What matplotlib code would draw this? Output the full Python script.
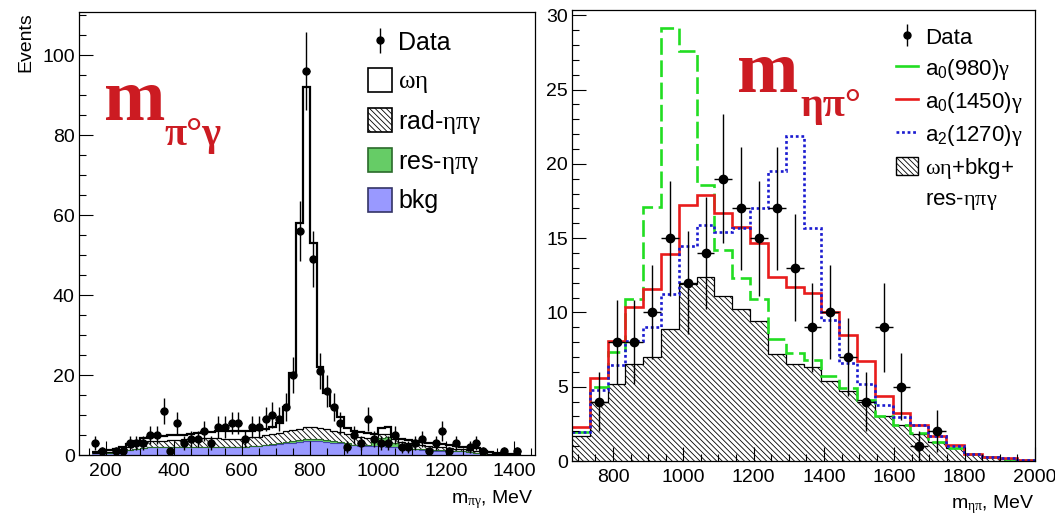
import numpy as np
import matplotlib
matplotlib.use('Agg')
import matplotlib.pyplot as plt
from matplotlib.patches import Patch
from matplotlib.lines import Line2D
from matplotlib.ticker import MultipleLocator

plt.rcParams['font.family'] = ['Liberation Sans', 'DejaVu Sans']
plt.rcParams['mathtext.fontset'] = 'custom'
plt.rcParams['mathtext.rm'] = 'Liberation Serif'
plt.rcParams['mathtext.it'] = 'Liberation Serif:italic'
plt.rcParams['mathtext.bf'] = 'Liberation Serif:bold'
plt.rcParams['mathtext.sf'] = 'Liberation Sans'
plt.rcParams['hatch.linewidth'] = 0.6
plt.rcParams['lines.scale_dashes'] = False

# ---- left panel: m(pi0 gamma), 20 MeV bins ----
edges_pg = np.arange(160, 1421, 20)
data_pg = [3, 1, 0, 1, 1, 3, 3, 3, 5, 5, 11, 1, 8, 3, 4, 4, 6, 3, 7, 7,
           8, 8, 4, 7, 7, 9, 10, 9, 12, 20, 56, 96, 49, 21, 16, 12, 8, 2, 5, 3,
           9, 4, 3, 3, 5, 2, 2, 3, 4, 1, 3, 6, 1, 3, 0, 2, 3, 1, 0, 0,
           1, 0, 1]
bkg_pg = [.4, .5, .6, .7, .9, 1.2, 1.5, 1.7, 1.9, 2.0, 2.1, 2.1, 2.0, 2.0, 1.9,
          1.9, 1.9, 1.9, 1.9, 1.9, 2.0, 2.0, 2.1, 2.2, 2.3, 2.4, 2.5, 2.7, 2.9, 3.1,
          3.3, 3.5, 3.6, 3.5, 3.3, 3.1, 2.9, 2.6, 2.4, 2.3, 2.2, 2.2, 2.2, 2.1, 2.0,
          1.7, 1.5, 1.4, 1.3, 1.2, 1.1, 1.1, 1.0, 1.0, .9, .8, .6, .3, .15, .1,
          .1, .05, .05]
res_pg = [0] * 25 + [.1, .2, .3, .4, .4, .4, .4, .4, .4, .4, .4, .3, .3, .2, .2,
                     .3, 1.2, 2.1, 2.3, 1.0, .4, .3, .2, .2, .2, .2, .1, .1] + [0] * 10
rad_pg = [0, 0, .1, .2, .4, .7, 1.1, 1.4, 1.5, 1.5, 1.5, 1.6, 1.8, 1.9, 2.1,
          2.2, 2.3, 2.3, 2.3, 2.2, 2.1, 2.1, 2.1, 2.2, 2.3, 2.4, 2.5, 2.5, 2.6, 2.8,
          2.9, 3.0, 2.9, 2.8, 2.7, 2.6, 2.5, 2.4, 2.3, 2.0, 1.7, 1.0, .9, .9, .9,
          1.1, 1.1, 1.1, 1.0, .9, .8, .8, .7, .6, .5, .5, .5, .3, .15, .1,
          .05, .05, 0]
ometa_pg = [.4, .5, .5, .6, .7, .9, 1.0, 1.1, 1.2, 1.2, 1.2, 1.2, 1.2, 1.2, 1.3,
            1.4, 1.5, 1.6, 1.7, 1.8, 1.8, 1.9, 1.8, 1.7, 1.6, 1.5, 1.7, 2.5, 6.1, 14.2,
            51.4, 85.1, 46.1, 15.3, 9.1, 6.2, 3.7, 1.5, 1.1, 1.2, 1.2, .9, 1.5, 1.6, .6,
            .8, .8, .8, .8, .8, .8, .7, .7, .7, .7, .6, .6, .5, .4, .2,
            .15, .1, .05]

# ---- right panel: m(eta pi0) ----
edges_ep = np.linspace(683.5, 2000, 27)
data_ep = [0, 4, 8, 8, 10, 15, 12, 14, 19, 17, 15, 17, 13, 9, 10, 7, 4, 9, 5, 1,
           2, 0, 0, 0, 0, 0]
sum_ep = [1.7, 4.0, 5.2, 6.5, 7.0, 8.9, 11.9, 12.4, 11.1, 10.2, 9.4, 7.2, 6.5,
          6.3, 5.4, 4.7, 4.1, 3.0, 2.4, 1.85, 1.25, .85, .5, .27, .15, .05]
a0_980 = [1.95, 4.95, 7.35, 10.9, 17.1, 29.15, 27.6, 18.6, 14.2, 12.3, 10.9, 8.2,
          7.3, 6.8, 5.7, 4.9, 4.1, 3.0, 2.45, 1.9, 1.3, .85, .5, .27, .15, .05]
a0_1450 = [2.3, 5.6, 8.1, 10.35, 11.6, 13.95, 17.2, 17.9, 16.7, 15.75, 14.7, 12.4,
           11.7, 11.3, 10.0, 8.5, 6.7, 4.35, 3.2, 2.4, 1.65, 1.05, .5, .27, .2, .07]
a2_1270 = [1.95, 4.8, 6.45, 8.1, 9.0, 11.25, 14.5, 15.85, 15.4, 15.65, 17.05, 19.5,
           21.9, 15.7, 9.5, 6.6, 5.2, 3.75, 2.95, 2.4, 1.65, 1.0, .5, .27, .2, .07]

RED = '#cc1b22'
GREEN_F = '#66cc66'
BLUE_F = '#9999ff'
HATCH = '\\' * 6

fig = plt.figure(figsize=(10.55, 5.14), dpi=100)
ax1 = fig.add_axes([79 / 1055, 59 / 514, 456 / 1055, 443 / 514])
ax2 = fig.add_axes([572 / 1055, 53 / 514, 463 / 1055, 451 / 514])

# stacked components
c1 = np.array(bkg_pg, float)
c2 = c1 + res_pg
c3 = c2 + rad_pg
c4 = c3 + ometa_pg
ax1.stairs(c1, edges_pg, baseline=0, fill=True, facecolor=BLUE_F, edgecolor='none')
ax1.stairs(c1, edges_pg, baseline=None, color='#4444aa', lw=0.8)
ax1.stairs(c2, edges_pg, baseline=c1, fill=True, facecolor=GREEN_F, edgecolor='none')
ax1.stairs(c2, edges_pg, baseline=None, color='#2a6a2a', lw=0.8)
ax1.stairs(c3, edges_pg, baseline=c2, fill=True, facecolor='none', edgecolor='k',
           hatch=HATCH, lw=0)
ax1.stairs(c3, edges_pg, baseline=None, color='k', lw=0.9)
ax1.stairs(c4, edges_pg, baseline=None, color='k', lw=1.6)

cen = 0.5 * (edges_pg[1:] + edges_pg[:-1])
d = np.array(data_pg, float)
m = d > 0
ax1.errorbar(cen[m], d[m], yerr=np.sqrt(d[m]), xerr=np.diff(edges_pg)[m] / 2,
             fmt='o', color='k', ms=5, elinewidth=1, capsize=0, zorder=5)

ax1.set_xlim(121.5, 1462)
ax1.set_ylim(0, 110.8)

# right
ax2.stairs(sum_ep, edges_ep, baseline=0, fill=True, facecolor='white', edgecolor='k',
           hatch=HATCH, lw=0)
ax2.stairs(sum_ep, edges_ep, baseline=None, color='k', lw=0.9)
ax2.stairs(a0_980, edges_ep, baseline=None, color='#22dd22', lw=1.9, ls=(0, (12, 4)))
ax2.stairs(a0_1450, edges_ep, baseline=None, color='#e81c1c', lw=1.9)
ax2.stairs(a2_1270, edges_ep, baseline=None, color='#1a1ad0', lw=1.9, ls=(0, (2, 2)))

cen2 = 0.5 * (edges_ep[1:] + edges_ep[:-1])
d2 = np.array(data_ep, float)
m2 = d2 > 0
ax2.errorbar(cen2[m2], d2[m2], yerr=np.sqrt(d2[m2]), xerr=np.diff(edges_ep)[m2] / 2,
             fmt='o', color='k', ms=6, elinewidth=1, capsize=0, zorder=5)
ax2.set_xlim(edges_ep[0], edges_ep[-1])
ax2.set_ylim(0, 30.35)

for ax, xmaj, xmin, ymaj, ymin in [(ax1, 200, 50, 20, 5), (ax2, 200, 50, 5, 1)]:
    ax.xaxis.set_major_locator(MultipleLocator(xmaj))
    ax.xaxis.set_minor_locator(MultipleLocator(xmin))
    ax.yaxis.set_major_locator(MultipleLocator(ymaj))
    ax.yaxis.set_minor_locator(MultipleLocator(ymin))
    ax.tick_params(which='both', direction='in', top=False, right=False,
                   labelsize=14, width=0.8)
    ax.tick_params(which='major', length=10)
    ax.tick_params(which='minor', length=5)
    ax.tick_params(axis='y', pad=3)
    ax.tick_params(axis='x', pad=6)
    for s in ax.spines.values():
        s.set_linewidth(0.9)

fig.text(26 / 1055, 1 - 12 / 514, 'Events', rotation=90, ha='center', va='top',
         fontsize=14)
fig.text(534 / 1055, 11 / 514, r'm$_{\mathrm{\pi\gamma}}$, MeV', ha='right',
         va='baseline', fontsize=14)
fig.text(1035 / 1055, 6 / 514, r'm$_{\mathrm{\eta\pi}}$, MeV', ha='right',
         va='baseline', fontsize=14)

# big red labels
serif = dict(family='Liberation Serif', weight='bold', color=RED)
fig.text(104 / 1055, 1 - 120 / 514, 'm', fontsize=53, va='baseline', **serif)
fig.text(164 / 1055, 1 - 145 / 514, 'π°γ', fontsize=29, va='baseline', **serif)
fig.text(737 / 1055, 1 - 92 / 514, 'm', fontsize=53, va='baseline', **serif)
fig.text(800 / 1055, 1 - 116 / 514, 'ηπ°', fontsize=29, va='baseline', **serif)

# legends
pdata = ax1.errorbar([np.nan], [np.nan], yerr=[1], fmt='o', color='k', ms=5,
                     elinewidth=1, capsize=0)
h1 = [pdata,
      Patch(facecolor='white', edgecolor='k', lw=1.2),
      Patch(facecolor='white', edgecolor='k', hatch=HATCH, lw=1.2),
      Patch(facecolor=GREEN_F, edgecolor='#2a6a2a', lw=1.2),
      Patch(facecolor=BLUE_F, edgecolor='#333366', lw=1.2)]
l1 = ['Data', r'$\mathrm{\omega\eta}$', r'rad-$\mathrm{\eta\pi\gamma}$',
      r'res-$\mathrm{\eta\pi\gamma}$', 'bkg']
ax1.legend(h1, l1, loc='upper left', bbox_to_anchor=(368 / 1055, 1 - 30 / 514),
           bbox_transform=fig.transFigure, frameon=False, fontsize=18,
           handlelength=0.96, handleheight=1.08, handletextpad=0.25,
           labelspacing=0.5, borderpad=0, borderaxespad=0)

pdata2 = ax2.errorbar([np.nan], [np.nan], yerr=[1], fmt='o', color='k', ms=5,
                      elinewidth=1, capsize=0)
h2 = [pdata2,
      Line2D([], [], color='#22dd22', lw=1.9),
      Line2D([], [], color='#e81c1c', lw=1.9),
      Line2D([], [], color='#1a1ad0', lw=1.9, ls=(0, (2, 2))),
      Patch(facecolor='white', edgecolor='k', hatch=HATCH, lw=1.0),
      Line2D([], [], color='none')]
l2 = ['Data', r'a$_{\mathsf{0}}$(980)$\mathrm{\gamma}$',
      r'a$_{\mathsf{0}}$(1450)$\mathrm{\gamma}$',
      r'a$_{\mathsf{2}}$(1270)$\mathrm{\gamma}$',
      r'$\mathrm{\omega\eta}$+bkg+', r'res-$\mathrm{\eta\pi\gamma}$']
ax2.legend(h2, l2, loc='upper left', bbox_to_anchor=(896 / 1055, 1 - 27 / 514),
           bbox_transform=fig.transFigure, frameon=False, fontsize=16,
           handlelength=1.0, handleheight=0.85, handletextpad=0.3,
           labelspacing=0.36, borderpad=0, borderaxespad=0)

fig.savefig('out.png', dpi=100)
